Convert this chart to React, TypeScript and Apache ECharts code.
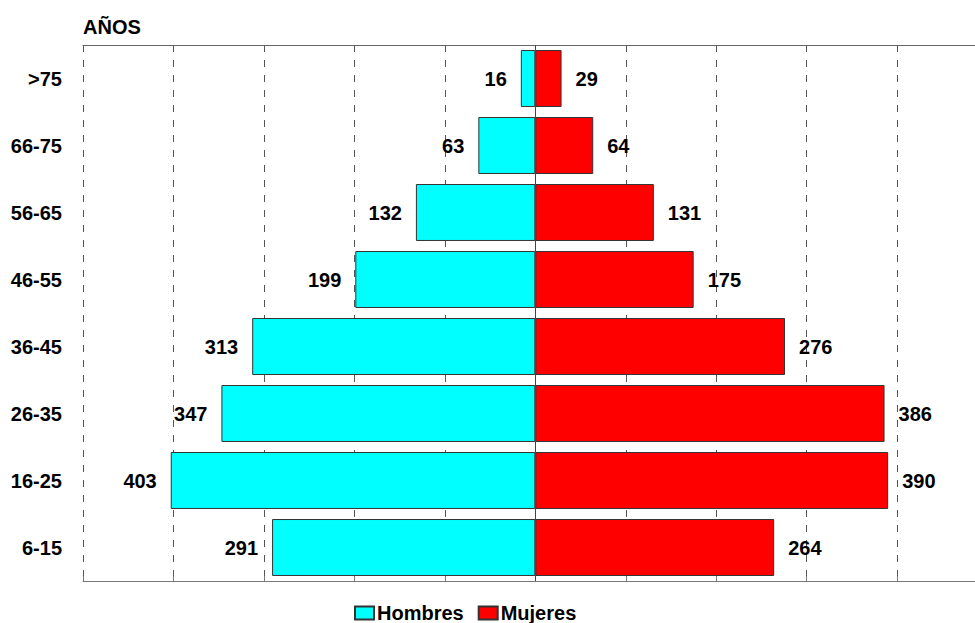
import React, { useEffect, useRef } from 'react';
import * as echarts from 'echarts';

const ageGroups = ['6-15', '16-25', '26-35', '36-45', '46-55', '56-65', '66-75', '>75'];
const hombres = [291, 403, 347, 313, 199, 132, 63, 16];
const mujeres = [264, 390, 386, 276, 175, 131, 64, 29];
const axisMin = -500;
const axisMax = 486;
const axisStep = 100;

const FONT = '"Liberation Sans", Arial, Helvetica, sans-serif';

export default function App() {
  const ref = useRef<HTMLDivElement>(null);

  useEffect(() => {
    if (!ref.current) return;
    const chart = echarts.init(ref.current, undefined, { renderer: 'svg' });
    const labelStyle = {
      show: true,
      fontFamily: FONT,
      fontSize: 20,
      fontWeight: 'bold' as const,
      color: '#000',
      distance: 14,
    };
    chart.setOption({
      animation: false,
      backgroundColor: '#fff',
      textStyle: { fontFamily: FONT },
      title: {
        text: 'AÑOS',
        left: 83,
        top: 17,
        padding: 0,
        textStyle: { fontFamily: FONT, fontSize: 20, fontWeight: 'bold', color: '#000' },
      },
      legend: {
        left: 354,
        top: 603,
        padding: 0,
        itemWidth: 19,
        itemHeight: 13,
        itemGap: 14,
        icon: 'rect',
        textStyle: {
          fontFamily: FONT,
          fontSize: 20,
          fontWeight: 'bold',
          color: '#000',
          padding: [0, 0, 0, -2],
        },
        data: ['Hombres', 'Mujeres'],
      },
      grid: { left: 83, top: 45, right: 0, height: 536, containLabel: false },
      xAxis: [
        {
          type: 'value',
          position: 'bottom',
          min: axisMin,
          max: axisMax,
          interval: axisStep,
          axisLabel: { show: false },
          axisLine: { show: true, lineStyle: { color: '#777', width: 1 } },
          axisTick: { show: true, inside: true, length: 5, lineStyle: { color: '#777' } },
          splitLine: {
            show: true,
            showMinLine: true,
            showMaxLine: false,
            lineStyle: { color: '#555', type: [7, 8], width: 1 },
          },
        },
        {
          type: 'value',
          position: 'top',
          min: axisMin,
          max: axisMax,
          interval: axisStep,
          axisLabel: { show: false },
          axisLine: { show: true, lineStyle: { color: '#666', width: 1 } },
          axisTick: { show: false },
          splitLine: { show: false },
        },
      ],
      yAxis: {
        type: 'category',
        data: ageGroups,
        axisLine: { show: false },
        axisTick: { show: false },
        axisLabel: {
          margin: 21,
          fontFamily: FONT,
          fontSize: 20,
          fontWeight: 'bold',
          color: '#000',
        },
      },
      series: [
        {
          name: 'Hombres',
          type: 'bar',
          stack: 'pop',
          barCategoryGap: '15%',
          data: hombres.map((v) => -v),
          itemStyle: { color: '#00FFFF', borderColor: '#333', borderWidth: 1 },
          label: { ...labelStyle, position: 'left', formatter: (p: any) => String(Math.abs(p.value)) },
          markLine: {
            silent: true,
            symbol: ['none', 'none'],
            label: { show: false },
            lineStyle: { color: '#444', type: 'solid', width: 1 },
            data: [{ xAxis: 0 }],
          },
        },
        {
          name: 'Mujeres',
          type: 'bar',
          stack: 'pop',
          barCategoryGap: '15%',
          data: mujeres,
          itemStyle: { color: '#FF0000', borderColor: '#333', borderWidth: 1 },
          label: { ...labelStyle, position: 'right' },
        },
      ],
    });
    return () => chart.dispose();
  }, []);

  return (
    <div
      ref={ref}
      style={{ position: 'absolute', left: 0, top: 0, width: 975, height: 623, background: '#fff' }}
    />
  );
}
